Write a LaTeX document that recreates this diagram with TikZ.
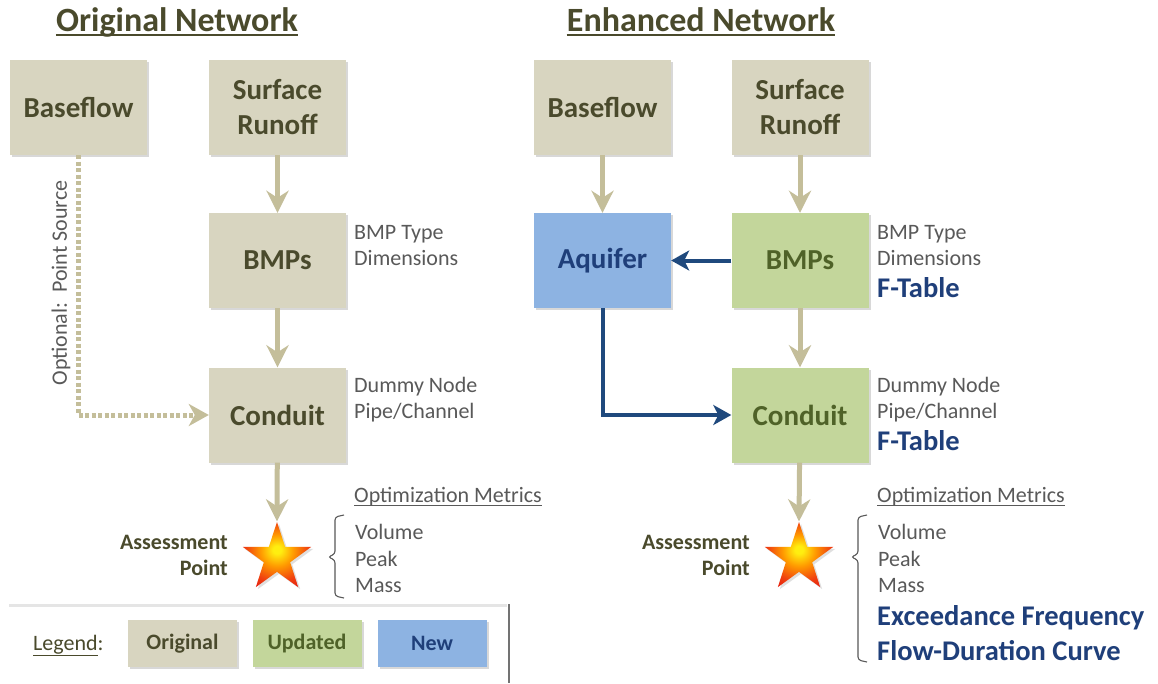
\documentclass[tikz,border=0pt]{standalone}
\usepackage{fontspec}
\setmainfont{Carlito}
\usetikzlibrary{arrows.meta,shapes.geometric,shadows,calc}
\definecolor{khfill}{HTML}{D8D5C0}
\definecolor{khtext}{HTML}{4A4A2C}
\definecolor{grfill}{HTML}{C3D69B}
\definecolor{grtext}{HTML}{4F6228}
\definecolor{blfill}{HTML}{8DB3E2}
\definecolor{bltext}{HTML}{1F3F7A}
\definecolor{blarrow}{HTML}{1F497D}
\definecolor{kharrow}{HTML}{C4BE9A}
\definecolor{sidetext}{HTML}{595959}
\definecolor{starY}{HTML}{FFEE10}
\definecolor{starO}{HTML}{FF9A00}
\definecolor{starR}{HTML}{F04010}
\definecolor{starD}{HTML}{E01010}
\pgfdeclareradialshading{starshade}{\pgfpoint{0bp}{4bp}}{color(0bp)=(starY); color(3bp)=(starY); color(12bp)=(starO); color(23bp)=(starR); color(34bp)=(starD); color(50bp)=(starD)}
\begin{document}
\begin{tikzpicture}[x=1pt,y=-1pt,
  box/.style={rectangle, minimum width=137pt, minimum height=95pt, inner sep=0pt, align=center,
    font=\bfseries\fontsize{29}{35}\selectfont,
    drop shadow={opacity=0.3, shadow xshift=2pt, shadow yshift=-2pt}},
  orig/.style={box, fill=khfill, text=khtext},
  upd/.style={box, fill=grfill, text=grtext},
  newb/.style={box, fill=blfill, text=bltext},
  legbox/.style={minimum width=109pt, minimum height=47pt, font=\bfseries\fontsize{22}{26}\selectfont},
  karrow/.style={draw=kharrow, line width=5pt, -{Stealth[length=22pt,width=22pt,inset=7pt]}},
  dotarrow/.style={draw=kharrow, line width=5pt, dash pattern=on 4pt off 2.5pt, -{Stealth[length=20pt,width=22pt,inset=6pt]}},
  barrow/.style={draw=blarrow, line width=4pt, -{Stealth[length=18pt,width=20pt,inset=5pt]}},
  side/.style={anchor=base west, inner sep=0pt, text=sidetext, font=\fontsize{22}{26}\selectfont},
  sidebold/.style={anchor=base west, inner sep=0pt, text=bltext, font=\bfseries\fontsize{28.5}{32}\selectfont},
  title/.style={anchor=base, inner sep=0pt, text=khtext, font=\bfseries\fontsize{34}{40}\selectfont},
  assess/.style={anchor=base east, inner sep=0pt, text=khtext, font=\bfseries\fontsize{22}{26}\selectfont},
  starnode/.style={star, star points=5, star point ratio=2.6, minimum size=72pt, inner sep=0pt, shading=starshade,
    drop shadow={opacity=0.25, shadow xshift=2pt, shadow yshift=-2pt}},
  bracket/.style={draw=sidetext, line width=1.1pt, rounded corners=3pt}
]
\useasboundingbox (0,0) rectangle (1158,683);
\fill[white] (0,0) rectangle (1158,683);

% titles
\node[title] (titleL) at (177,31) {Original Network};
\node[title] (titleR) at (701,31) {Enhanced Network};
\draw[khtext, line width=2pt] ($(titleL.base west)+(0,4)$) -- ($(titleL.base east)+(0,4)$);
\draw[khtext, line width=2pt] ($(titleR.base west)+(0,4)$) -- ($(titleR.base east)+(0,4)$);

% left network
\node[orig] (bfL) at (78.5,107.5) {Baseflow};
\node[orig] (srL) at (277.5,107.5) {Surface\\Runoff};
\node[orig] (bmpL) at (277.5,260.5) {BMPs};
\node[orig] (condL) at (277.5,415) {Conduit};
\node[starnode] (starL) at (277,558) {};

\draw[karrow] (srL) -- (bmpL);
\draw[karrow] (bmpL) -- (condL);
\draw[karrow] (condL) -- (starL.north);
\draw[dotarrow] (bfL.south) |- (condL.west);
\node[rotate=90, inner sep=0pt, text=sidetext, font=\fontsize{22}{26}\selectfont] (optL) at (61,283) {Optional:\ \ Point Source};

\node[side] (bmptL) at (354,239) {BMP Type};
\node[side] (dimL) at (354,265) {Dimensions};
\node[side] (dumL) at (354,392) {Dummy Node};
\node[side] (pipeL) at (354,418) {Pipe/Channel};
\node[side] (optmL) at (354,502) {Optimization Metrics};
\draw[sidetext, line width=1pt] ($(optmL.base west)+(0,3)$) -- ($(optmL.base east)+(0,3)$);
\node[side] (volL) at (355,539) {Volume};
\node[side] (peakL) at (355,566) {Peak};
\node[side] (massL) at (355,592) {Mass};
\draw[bracket] (344,515) -- (335,517) -- (335,554) -- (328,557) -- (335,560) -- (335,596) -- (344,598);
\node[assess] (asL1) at (228,549) {Assessment};
\node[assess] (asL2) at (228,575) {Point};

% right network
\node[orig] (bfR) at (602.5,107.5) {Baseflow};
\node[orig] (srR) at (800,107.5) {Surface\\Runoff};
\node[newb] (aq) at (602.5,260.5) {Aquifer};
\node[upd] (bmpR) at (800,260.5) {BMPs};
\node[upd] (condR) at (800,415) {Conduit};
\node[starnode] (starR) at (799,558) {};

\draw[karrow] (bfR) -- (aq);
\draw[karrow] (srR) -- (bmpR);
\draw[karrow] (bmpR) -- (condR);
\draw[karrow] (condR) -- (starR.north);
\draw[barrow] (bmpR) -- (aq);
\draw[barrow] (aq.south) |- (condR.west);

\node[side] (bmptR) at (877,239) {BMP Type};
\node[side] (dimR) at (877,265) {Dimensions};
\node[sidebold] (ftR1) at (877,297) {F-Table};
\node[side] (dumR) at (877,392) {Dummy Node};
\node[side] (pipeR) at (877,418) {Pipe/Channel};
\node[sidebold] (ftR2) at (877,450) {F-Table};
\node[side] (optmR) at (877,502) {Optimization Metrics};
\draw[sidetext, line width=1pt] ($(optmR.base west)+(0,3)$) -- ($(optmR.base east)+(0,3)$);
\node[side] (volR) at (878,539) {Volume};
\node[side] (peakR) at (878,566) {Peak};
\node[side] (massR) at (878,592) {Mass};
\node[sidebold] (excR) at (877,625) {Exceedance Frequency};
\node[sidebold] (fdcR) at (877,660) {Flow-Duration Curve};
\draw[bracket] (867,515) -- (858,517) -- (858,554) -- (851,557) -- (858,560) -- (858,660) -- (867,662);
\node[assess] (asR1) at (750,549) {Assessment};
\node[assess] (asR2) at (750,575) {Point};

% legend
\draw[black!10, line width=3pt] (9,605) -- (507,605);
\draw[black!55, line width=1.5pt] (509,604) -- (509,683);
\node[side, text=khtext] (legL) at (33,650) {\underline{Legend}:};
\node[orig, legbox] (lgO) at (182.5,643.5) {Original};
\node[upd, legbox] (lgU) at (307,643.5) {Updated};
\node[newb, legbox] (lgN) at (432,643.5) {New};
\end{tikzpicture}
\end{document}
